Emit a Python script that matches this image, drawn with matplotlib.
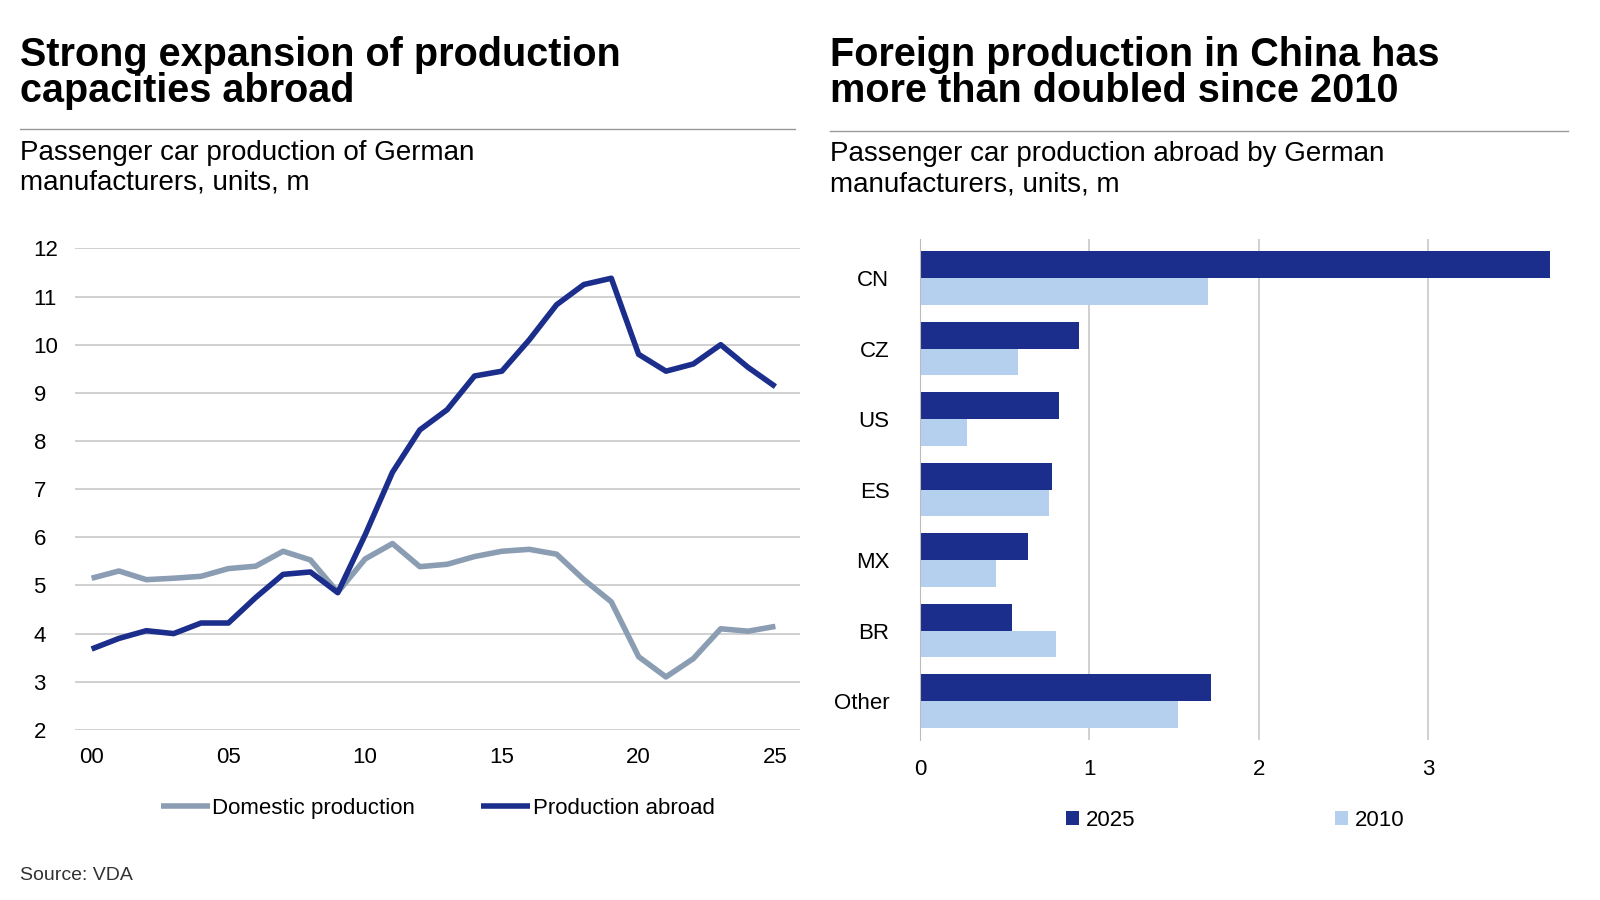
import matplotlib.pyplot as plt
import numpy as np

years = list(range(2000, 2026))
domestic = [5.15, 5.3, 5.12, 5.15, 5.19, 5.35, 5.4, 5.71, 5.53, 4.86, 5.55, 5.87, 5.39, 5.44, 5.6,
            5.71, 5.75, 5.65, 5.12, 4.66, 3.52, 3.10, 3.48, 4.10, 4.05, 4.15]
abroad = [3.68, 3.9, 4.06, 4.0, 4.22, 4.22, 4.75, 5.23, 5.28, 4.85, 6.05, 7.35, 8.23, 8.65, 9.35,
          9.45, 10.1, 10.83, 11.25, 11.38, 9.8, 9.45, 9.6, 10.0, 9.53, 9.13]
xtick_labels = ["00", "05", "10", "15", "20", "25"]

countries = ["CN", "CZ", "US", "ES", "MX", "BR", "Other"]
val_2025 = [3.72, 0.94, 0.82, 0.78, 0.64, 0.54, 1.72]
val_2010 = [1.70, 0.58, 0.28, 0.76, 0.45, 0.80, 1.52]

NAVY = "#1c2e8c"
GREYBLUE = "#8b9db3"
LIGHT = "#b5d0ee"
GRID = "#c8c8c8"

plt.rcParams['font.family'] = ['Liberation Sans', 'DejaVu Sans']
fig = plt.figure(figsize=(16, 9), dpi=100)

# --- titles ---
fig.text(0.0125, 0.96, "Strong expansion of production\ncapacities abroad", fontsize=28.5,
         fontweight='bold', va='top', linespacing=0.95)
fig.text(0.519, 0.96, "Foreign production in China has\nmore than doubled since 2010", fontsize=28.5,
         fontweight='bold', va='top', linespacing=0.95)
fig.add_artist(plt.Line2D([0.0125, 0.497], [0.857, 0.857], color='#999999', lw=1))
fig.add_artist(plt.Line2D([0.519, 0.98], [0.855, 0.855], color='#999999', lw=1))
fig.text(0.0125, 0.845, "Passenger car production of German\nmanufacturers, units, m", fontsize=20,
         va='top', linespacing=1.2)
fig.text(0.519, 0.843, "Passenger car production abroad by German\nmanufacturers, units, m", fontsize=20,
         va='top', linespacing=1.2)
fig.text(0.0125, 0.022, "Source: VDA", fontsize=14, color='#333333')

# --- left line chart ---
ax1 = fig.add_axes([0.047, 0.189, 0.453, 0.535])
x = np.array(years) - 2000
ax1.plot(x, domestic, color=GREYBLUE, lw=4, label="Domestic production", solid_capstyle='butt')
ax1.plot(x, abroad, color=NAVY, lw=4, label="Production abroad", solid_capstyle='butt')
ax1.set_ylim(2, 12)
ax1.set_xlim(-0.6, 25.9)
ax1.set_yticks(range(2, 13))
ax1.set_xticks([0, 5, 10, 15, 20, 25])
ax1.set_xticklabels(xtick_labels)
ax1.grid(axis='y', color=GRID, lw=1.2)
ax1.set_axisbelow(True)
for s in ax1.spines.values():
    s.set_visible(False)
ax1.tick_params(length=0, labelsize=16, pad=12)
ax1.tick_params(axis='y', pad=30)
for lbl in ax1.get_yticklabels():
    lbl.set_horizontalalignment('left')
ax1.legend(loc='upper center', bbox_to_anchor=(0.5, -0.1), ncol=2, frameon=False,
           fontsize=16, handlelength=2.2, handletextpad=0.1, columnspacing=3)

# --- right bar chart ---
ax2 = fig.add_axes([0.575, 0.178, 0.394, 0.556])
pos = np.arange(len(countries))
h = 0.38
ax2.barh(pos - h / 2, val_2025, height=h, color=NAVY, label="2025")
ax2.barh(pos + h / 2, val_2010, height=h, color=LIGHT, label="2010")
ax2.set_yticks(pos)
ax2.set_yticklabels(countries)
ax2.set_ylim(len(countries) - 0.5 + 0.05, -0.5 - 0.05)
ax2.set_xlim(0, 3.72)
ax2.set_xticks([0, 1, 2, 3])
ax2.grid(axis='x', color=GRID, lw=1.2)
ax2.set_axisbelow(True)
for s in ax2.spines.values():
    s.set_visible(False)
ax2.spines['left'].set_visible(True)
ax2.spines['left'].set_color('#bbbbbb')
ax2.tick_params(length=0, labelsize=16, pad=14)
ax2.tick_params(axis='y', pad=22)
ax2.legend(loc='upper center', bbox_to_anchor=(0.5, -0.1), ncol=2, frameon=False,
           fontsize=16, handlelength=0.6, handleheight=0.6, handletextpad=0.3, columnspacing=9)

fig.savefig("out.png", dpi=100, facecolor='white')
